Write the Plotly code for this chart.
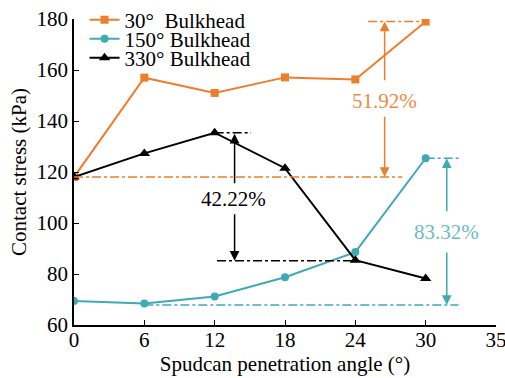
import plotly.graph_objects as go

angles = [0, 6, 12, 18, 24, 30]
b30 = [118, 157, 151, 157.1, 156.3, 179]
b150 = [69.4, 68.4, 71.2, 78.7, 88.6, 125.4]
b330 = [118, 127.3, 135.4, 121.5, 85.4, 78.2]
x_tickvals = [0, 6, 12, 18, 24, 30, 36]
x_ticktext = ["0", "6", "12", "18", "24", "30", "35"]
y_tickvals = [60, 80, 100, 120, 140, 160, 180]

ORANGE = "#EF7D2E"
TEAL = "#3FAAB5"
TEAL_TXT = "#6CBCC4"
ORANGE_TXT = "#F08A42"
FONT = "Liberation Serif"
FS = 21

fig = go.Figure()
fig.add_trace(go.Scatter(x=angles, y=b30, name="30°  Bulkhead", mode="lines+markers", legend="legend",
                         line=dict(color=ORANGE, width=2), marker=dict(symbol="square", size=8, color=ORANGE)))
fig.add_trace(go.Scatter(x=angles, y=b150, name="150° Bulkhead", mode="lines+markers", legend="legend2",
                         line=dict(color=TEAL, width=2), marker=dict(symbol="circle", size=8, color=TEAL)))
fig.add_trace(go.Scatter(x=angles, y=b330, name="330° Bulkhead", mode="lines+markers", legend="legend3",
                         line=dict(color="black", width=2), marker=dict(symbol="triangle-up", size=10, color="black")))

shapes = []
def dline(x0, x1, y, color):
    shapes.append(dict(type="line", x0=x0, x1=x1, y0=y, y1=y, xref="x", yref="y",
                       line=dict(color=color, width=1.5, dash="dashdot")))

dline(0, 28, 118, ORANGE)
dline(25.1, 30, 179, ORANGE)
dline(12, 15.1, 135.4, "black")
dline(12.2, 24, 85.2, "black")
dline(6, 32.8, 67.8, TEAL)
dline(30, 33, 125.4, TEAL)

anns = []
def arrow(x, y_tail, y_head, color):
    anns.append(dict(x=x, y=y_head, ax=x, ay=y_tail, xref="x", yref="y", axref="x", ayref="y",
                     text="", showarrow=True, arrowhead=2, arrowsize=1.3, arrowwidth=1.5,
                     arrowcolor=color))

arrow(26.5, 155.4, 179, ORANGE)
arrow(26.5, 142.3, 118, ORANGE)
anns.append(dict(x=26.5, y=148, xref="x", yref="y", text="51.92%", showarrow=False,
                 font=dict(family=FONT, size=FS, color=ORANGE_TXT)))
arrow(13.7, 115, 135, "black")
arrow(13.7, 104, 85.2, "black")
anns.append(dict(x=13.6, y=109.5, xref="x", yref="y", text="42.22%", showarrow=False,
                 font=dict(family=FONT, size=FS, color="black")))
arrow(31.8, 104, 125.4, TEAL)
arrow(31.8, 89, 67.8, TEAL)
anns.append(dict(x=31.8, y=96.5, xref="x", yref="y", text="83.32%", showarrow=False,
                 font=dict(family=FONT, size=FS, color=TEAL_TXT)))

def leg(y):
    return dict(x=0.025, y=y, xanchor="left", yanchor="middle", bgcolor="rgba(0,0,0,0)",
                font=dict(family=FONT, size=FS, color="black"), itemwidth=30)

fig.update_layout(
    width=505, height=378,
    margin=dict(l=74, r=9, t=19, b=53, autoexpand=False),
    paper_bgcolor="white", plot_bgcolor="white",
    font=dict(family=FONT, size=FS, color="black"),
    showlegend=True,
    legend=leg(0.9967), legend2=leg(0.9346), legend3=leg(0.8725),
    shapes=shapes, annotations=anns,
    xaxis=dict(range=[0, 36], tickvals=x_tickvals, ticktext=x_ticktext, showgrid=False, zeroline=False,
               showline=True, linecolor="black", linewidth=1.5, ticks="inside", ticklen=5,
               tickcolor="black", ticklabeloverflow="allow", automargin=False, ticklabelstandoff=-5,
               title=dict(text="Spudcan penetration angle (°)", standoff=0,
                          font=dict(family=FONT, size=FS, color="black")),
               tickfont=dict(family=FONT, size=FS, color="black")),
    yaxis=dict(range=[60, 180], tickvals=y_tickvals, showgrid=False, zeroline=False,
               showline=True, linecolor="black", linewidth=1.5, ticks="inside", ticklen=5,
               tickcolor="black", ticklabeloverflow="allow", automargin=False,
               title=dict(text="Contact stress (kPa)", standoff=4,
                          font=dict(family=FONT, size=FS, color="black")),
               tickfont=dict(family=FONT, size=FS, color="black")),
)
fig.write_html("out.html")
